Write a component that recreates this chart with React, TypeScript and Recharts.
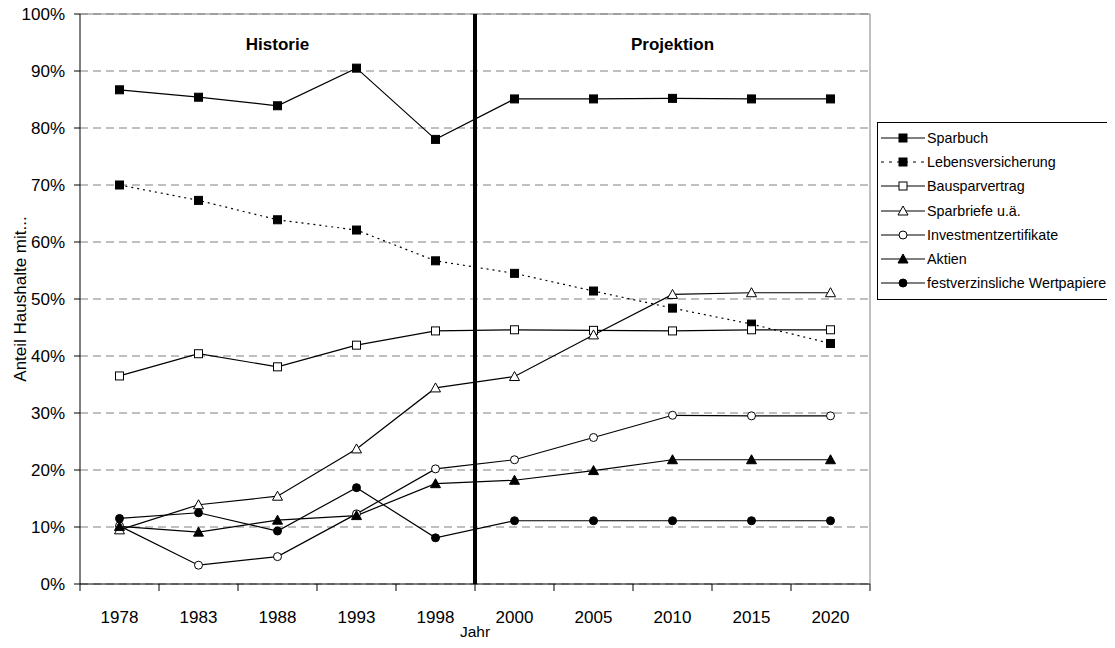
import React from 'react'
import { LineChart, Line, XAxis, YAxis, CartesianGrid, ReferenceLine, ReferenceArea, Legend } from 'recharts'

const years = ['1978', '1983', '1988', '1993', '1998', '2000', '2005', '2010', '2015', '2020']
const sparbuch = [86.7, 85.4, 83.9, 90.5, 78.0, 85.1, 85.1, 85.2, 85.1, 85.1]
const lebensversicherung = [70.0, 67.3, 63.9, 62.1, 56.7, 54.5, 51.4, 48.4, 45.6, 42.2]
const bausparvertrag = [36.5, 40.4, 38.1, 41.9, 44.4, 44.6, 44.5, 44.4, 44.6, 44.6]
const sparbriefe = [9.5, 13.9, 15.4, 23.7, 34.4, 36.4, 43.7, 50.8, 51.1, 51.1]
const investment = [10.2, 3.3, 4.8, 12.3, 20.2, 21.8, 25.7, 29.6, 29.5, 29.5]
const aktien = [10.1, 9.1, 11.2, 12.0, 17.6, 18.2, 19.9, 21.8, 21.8, 21.8]
const festverzinslich = [11.5, 12.5, 9.3, 16.9, 8.1, 11.1, 11.1, 11.1, 11.1, 11.1]
const yTicks = [0, 10, 20, 30, 40, 50, 60, 70, 80, 90, 100]

const data = years.map((year, i) => ({
  i,
  year,
  sparbuch: sparbuch[i],
  lebensversicherung: lebensversicherung[i],
  bausparvertrag: bausparvertrag[i],
  sparbriefe: sparbriefe[i],
  investment: investment[i],
  aktien: aktien[i],
  festverzinslich: festverzinslich[i],
}))

const FONT = '"Liberation Sans", Arial, sans-serif'
// page is 1115x648 with an 8px body margin: keep the svg inside so no scrollbars appear
const W = 1107
const H = 632
const PLOT_LEFT = 72
const PLOT_RIGHT = 862
const PLOT_TOP = 6
const PLOT_BOTTOM = 576
const X_AXIS_H = 56
const BAND = (PLOT_RIGHT - PLOT_LEFT) / years.length

type Shape = 'square' | 'triangle' | 'circle'

function marker(shape: Shape, filled: boolean, cx: number, cy: number, key?: React.Key) {
  const fill = filled ? '#000' : '#fff'
  if (shape === 'square') {
    return <rect key={key} x={cx - 4} y={cy - 4} width={8} height={8} fill={fill} stroke="#000" strokeWidth={1} />
  }
  if (shape === 'triangle') {
    return (
      <polygon
        key={key}
        points={`${cx},${cy - 5} ${cx - 5},${cy + 4} ${cx + 5},${cy + 4}`}
        fill={fill}
        stroke="#000"
        strokeWidth={1}
      />
    )
  }
  return <circle key={key} cx={cx} cy={cy} r={4} fill={fill} stroke="#000" strokeWidth={1} />
}

const dotFor = (shape: Shape, filled: boolean) => (props: any) => marker(shape, filled, props.cx, props.cy, props.index)

const series = [
  { key: 'sparbuch', name: 'Sparbuch', shape: 'square' as Shape, filled: true, dash: undefined },
  { key: 'lebensversicherung', name: 'Lebensversicherung', shape: 'square' as Shape, filled: true, dash: '2 4' },
  { key: 'bausparvertrag', name: 'Bausparvertrag', shape: 'square' as Shape, filled: false, dash: undefined },
  { key: 'sparbriefe', name: 'Sparbriefe u.ä.', shape: 'triangle' as Shape, filled: false, dash: undefined },
  { key: 'investment', name: 'Investmentzertifikate', shape: 'circle' as Shape, filled: false, dash: undefined },
  { key: 'aktien', name: 'Aktien', shape: 'triangle' as Shape, filled: true, dash: undefined },
  { key: 'festverzinslich', name: 'festverzinsliche Wertpapiere', shape: 'circle' as Shape, filled: true, dash: undefined },
]

function XTick(props: any) {
  const { x, y, payload } = props
  const idx = payload.value as number
  const left = x - BAND / 2
  return (
    <g>
      <line x1={left} x2={left} y1={y - 7} y2={y} stroke="#000" />
      {idx === years.length - 1 && <line x1={x + BAND / 2} x2={x + BAND / 2} y1={y - 7} y2={y} stroke="#000" />}
      <text x={x} y={y + 32} textAnchor="middle" fontSize={17} fontFamily={FONT} fill="#000">
        {years[idx]}
      </text>
    </g>
  )
}

function YLabel() {
  const cy = (PLOT_TOP + PLOT_BOTTOM) / 2
  return (
    <text
      x={12}
      y={cy}
      transform={`rotate(-90 12 ${cy})`}
      textAnchor="middle"
      dominantBaseline="central"
      fontSize={17}
      fontFamily={FONT}
      fill="#000"
    >
      Anteil Haushalte mit...
    </text>
  )
}

function LegendBox() {
  return (
    <div
      style={{
        border: '1px solid #000',
        background: '#fff',
        padding: '3px 0 4px 2px',
        fontFamily: FONT,
        fontSize: 14.3,
        width: 233,
        boxSizing: 'border-box',
      }}
    >
      {series.map((s) => (
        <div key={s.key} style={{ display: 'flex', alignItems: 'center', height: 24.2, whiteSpace: 'nowrap' }}>
          <svg width={46} height={14} style={{ flex: 'none' }}>
            <line x1={1} x2={45} y1={7} y2={7} stroke="#000" strokeWidth={1.2} strokeDasharray={s.dash ? '3 5' : undefined} />
            {marker(s.shape, s.filled, 23, 7)}
          </svg>
          <span style={{ marginLeft: 1 }}>{s.name}</span>
        </div>
      ))}
    </div>
  )
}

export default function App() {
  return (
    <LineChart
      width={W}
      height={H}
      data={data}
      margin={{ top: PLOT_TOP, right: W - PLOT_RIGHT, bottom: H - PLOT_BOTTOM - X_AXIS_H, left: 0 }}
    >
      <CartesianGrid horizontal vertical={false} stroke="#808080" strokeDasharray="8 5" />
      <ReferenceArea
        x1={-0.5}
        x2={4.5}
        y1={0}
        y2={100}
        fill="none"
        stroke="none"
        label={{ value: 'Historie', position: 'insideTop', offset: 24, fontSize: 17, fontWeight: 'bold', fontFamily: FONT, fill: '#000' }}
      />
      <ReferenceArea
        x1={4.5}
        x2={9.5}
        y1={0}
        y2={100}
        fill="none"
        stroke="none"
        label={{ value: 'Projektion', position: 'insideTop', offset: 24, fontSize: 17, fontWeight: 'bold', fontFamily: FONT, fill: '#000' }}
      />
      <ReferenceLine y={100} stroke="#808080" strokeWidth={1} />
      <ReferenceLine x={9.5} stroke="#808080" strokeWidth={1} />
      <XAxis
        dataKey="i"
        type="number"
        domain={[-0.5, 9.5]}
        ticks={years.map((_, i) => i)}
        interval={0}
        height={X_AXIS_H}
        tickSize={7}
        tickMargin={0}
        tickLine={false}
        axisLine={{ stroke: '#000' }}
        tick={<XTick />}
        label={{ value: 'Jahr', position: 'insideBottom', offset: 3, fontSize: 15.5, fontFamily: FONT, fill: '#000' }}
      />
      <YAxis
        type="number"
        domain={[0, 100]}
        ticks={yTicks}
        interval={0}
        width={PLOT_LEFT}
        tickSize={6}
        tickMargin={9}
        tickFormatter={(v: number) => `${v}%`}
        tick={{ fontSize: 17, fontFamily: FONT, fill: '#000' }}
        tickLine={{ stroke: '#000' }}
        axisLine={{ stroke: '#000' }}
        label={<YLabel />}
      />
      <ReferenceLine x={4.5} stroke="#000" strokeWidth={4} />
      {series.map((s) => (
        <Line
          key={s.key}
          dataKey={s.key}
          name={s.name}
          type="linear"
          stroke="#000"
          strokeWidth={1.2}
          strokeDasharray={s.dash}
          dot={dotFor(s.shape, s.filled)}
          activeDot={false}
          isAnimationActive={false}
        />
      ))}
      <Legend
        layout="horizontal"
        align="center"
        verticalAlign="middle"
        content={() => <LegendBox />}
        wrapperStyle={{ left: 869, top: 114, width: 234 }}
      />
    </LineChart>
  )
}
